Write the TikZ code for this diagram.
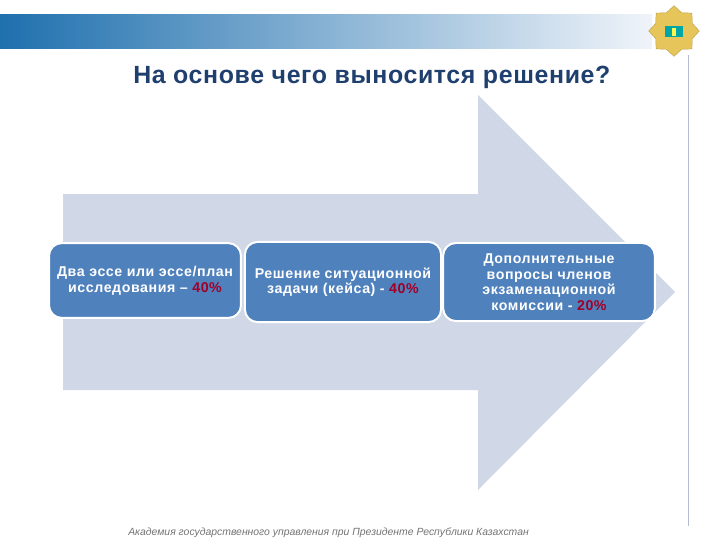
\documentclass[tikz,border=0pt]{standalone}
\usepackage{fontspec}
\setmainfont{Liberation Sans}
\usetikzlibrary{shapes.geometric, positioning}
\definecolor{arrowfill}{HTML}{D0D8E8}
\definecolor{boxfill}{HTML}{4F81BD}
\definecolor{titleblue}{HTML}{1F3F6E}
\definecolor{pctred}{HTML}{A00028}
\definecolor{bandblue}{HTML}{1F70AE}
\definecolor{bandpale}{HTML}{F0F4F9}
\definecolor{ruleblue}{HTML}{B4BDD0}
\definecolor{gold}{HTML}{E6C65A}
\tikzset{
    stagebox/.style={rectangle, rounded corners=9pt, draw=white, line width=1.4pt, fill=boxfill, text=white, align=center, inner sep=0pt, font=\fontsize{10.1pt}{11.1pt}\selectfont\bfseries\addfontfeatures{LetterSpace=4}}
}
\begin{document}
\begin{tikzpicture}[x=0.025cm, y=-0.025cm]
    \useasboundingbox (0,0) rectangle (720,540);
    % Band and rule
    \fill[left color=bandblue, right color=bandpale] (0,14) rectangle (652,48);
    \draw[ruleblue, line width=0.7pt] (688,55) -- (688,526);
    % Big arrow
    \fill[arrowfill] (63,194) -- (478,194) -- (478,95) -- (675,292) -- (478,490) -- (478,390) -- (63,390) -- cycle;
    % Badge
    \node[star, star points=8, star point ratio=1.28, fill=gold, draw=gold!80!black, line width=0.3pt, minimum size=36pt, inner sep=0pt] (badge) at (674,31) {};
    \fill[teal!70!cyan] (665,26) rectangle (683,37);
    \fill[yellow!70!white] (672,28) rectangle (676,36);
    % Title
    \node[font=\fontsize{17.7pt}{20pt}\selectfont\bfseries\addfontfeatures{LetterSpace=2.5}, text=titleblue, anchor=west, inner sep=0pt] (title) at (133,77) {На основе чего выносится решение?};
    % Stages
    \node[stagebox, minimum width=136.5pt, minimum height=53.2pt] (essay) at (145,280.5) {Два эссе или эссе/план\\исследования -- {\color{pctred}40\%}};
    \node[stagebox, minimum width=139.5pt, minimum height=57pt] (case) at (343,282) {Решение ситуационной\\задачи (кейса) -  {\color{pctred}40\%}};
    \node[stagebox, minimum width=150.5pt, minimum height=55.5pt] (extra) at (549,282) {Дополнительные\\вопросы членов\\экзаменационной\\комиссии - {\color{pctred}20\%}};
    % Footer
    \node[font=\fontsize{7.4pt}{9pt}\selectfont\itshape, text=black!55, anchor=west, inner sep=0pt] (footer) at (128,533) {Академия государственного управления при Президенте Республики Казахстан};
\end{tikzpicture}
\end{document}
